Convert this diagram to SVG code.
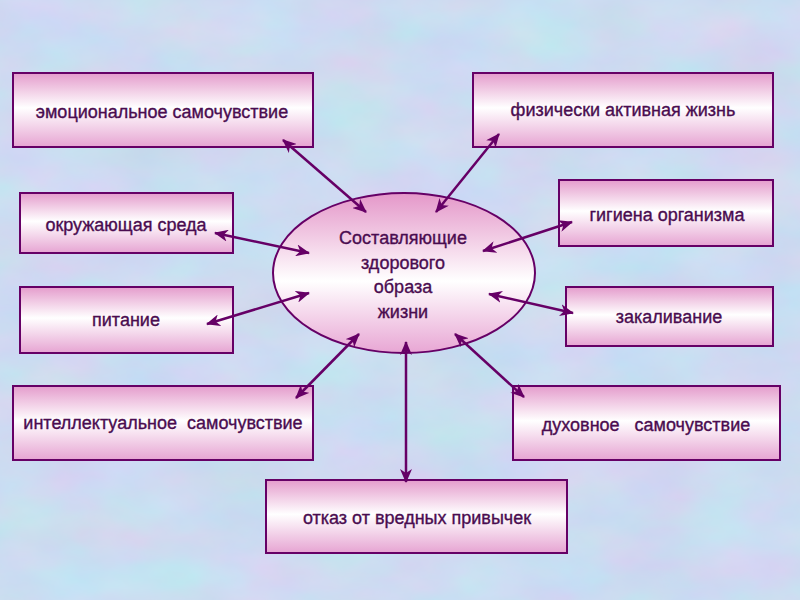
<svg xmlns="http://www.w3.org/2000/svg" width="800" height="600" viewBox="0 0 800 600">
<defs>
<filter id="bgtex" x="0" y="0" width="100%" height="100%" color-interpolation-filters="sRGB">
<feTurbulence type="fractalNoise" baseFrequency="0.01 0.018" numOctaves="4" seed="7" result="n"/>
<feColorMatrix in="n" type="matrix" values="0.16 0 0 0 0.72  -0.08 0.08 0 0 0.86  0 0 0.05 0 0.92  0 0 0 0 1"/>
</filter>
<linearGradient id="boxg" x1="0" y1="0" x2="0" y2="1">
<stop offset="0" stop-color="#e49ccc"/>
<stop offset="0.47" stop-color="#ffffff"/>
<stop offset="1" stop-color="#e6a4d2"/>
</linearGradient>
<linearGradient id="ellg" x1="0" y1="0" x2="0" y2="1">
<stop offset="0" stop-color="#e497c9"/>
<stop offset="0.55" stop-color="#ffffff"/>
<stop offset="1" stop-color="#e8a6d4"/>
</linearGradient>
<marker id="ah" viewBox="0 0 14 12" refX="13" refY="6" markerWidth="14" markerHeight="12" markerUnits="userSpaceOnUse" orient="auto-start-reverse">
<path d="M0,0 L14,6 L0,12 L4,6 Z" fill="#660066"/>
</marker>
<style>
.box{fill:url(#boxg);stroke:#660066;stroke-width:2}
.t{font-family:"Liberation Sans",Arial,sans-serif;font-size:18px;fill:#4a0c50;stroke:#4a0c50;stroke-width:0.35;text-anchor:middle;white-space:pre}
.c{stroke:#660066;stroke-width:2.5;fill:none;marker-start:url(#ah);marker-end:url(#ah)}
</style>
</defs>
<rect x="0" y="0" width="800" height="600" fill="#c8dcf2"/>
<rect x="0" y="0" width="800" height="600" filter="url(#bgtex)"/>

<g id="center">
<ellipse cx="404" cy="273" rx="131" ry="80" fill="url(#ellg)" stroke="#660066" stroke-width="2"/>
<text class="t" x="403" y="244">Составляющие</text>
<text class="t" x="403" y="269">здорового</text>
<text class="t" x="403" y="293">образа</text>
<text class="t" x="403" y="318">жизни</text>
</g>

<g id="emo"><rect class="box" x="13" y="73" width="300" height="74"/><text class="t" x="162" y="118">эмоциональное самочувствие</text></g>
<g id="fiz"><rect class="box" x="473" y="73" width="300" height="74"/><text class="t" x="623" y="116">физически активная жизнь</text></g>
<g id="env"><rect class="box" x="20" y="193" width="213" height="60"/><text class="t" x="126" y="231">окружающая среда</text></g>
<g id="pit"><rect class="box" x="20" y="287" width="213" height="66"/><text class="t" x="126" y="326">питание</text></g>
<g id="gig"><rect class="box" x="559" y="180" width="214" height="66"/><text class="t" x="667" y="221">гигиена организма</text></g>
<g id="zak"><rect class="box" x="566" y="287" width="207" height="59"/><text class="t" x="669" y="323">закаливание</text></g>
<g id="int"><rect class="box" x="13" y="386" width="300" height="74"/><text class="t" x="163" y="429">интеллектуальное  самочувствие</text></g>
<g id="otk"><rect class="box" x="266" y="480" width="301" height="73"/><text class="t" x="417" y="524">отказ от вредных привычек</text></g>
<g id="duh"><rect class="box" x="513" y="386" width="267" height="74"/><text class="t" x="646" y="431">духовное   самочувствие</text></g>

<g id="connectors">
<line class="c" x1="283" y1="140" x2="366" y2="212"/>
<line class="c" x1="436" y1="212" x2="499" y2="134"/>
<line class="c" x1="215" y1="233" x2="309" y2="253"/>
<line class="c" x1="207" y1="324" x2="309" y2="293"/>
<line class="c" x1="483" y1="251" x2="572" y2="222"/>
<line class="c" x1="489" y1="294" x2="573" y2="313"/>
<line class="c" x1="359" y1="334" x2="296" y2="398"/>
<line class="c" x1="406" y1="342" x2="406" y2="482"/>
<line class="c" x1="455" y1="334" x2="524" y2="397"/>
</g>
</svg>
